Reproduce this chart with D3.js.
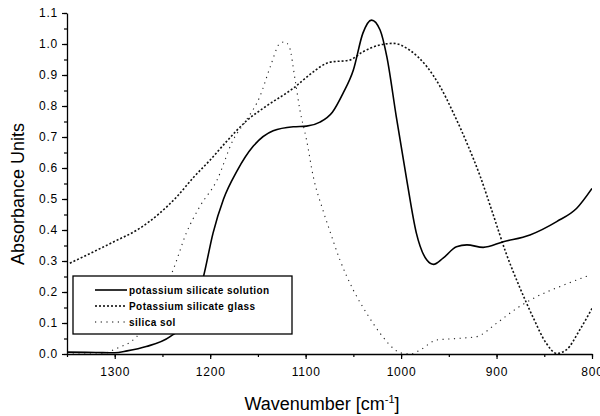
<!DOCTYPE html>
<html>
<head>
<meta charset="utf-8">
<script src="https://cdn.jsdelivr.net/npm/d3@7"></script>
<style>
  body { margin: 0; background: #fff; }
  text { font-family: "Liberation Sans", Arial, sans-serif; fill: #000; }
</style>
</head>
<body>
<div id="chart"></div>
<script>
// wavenumber (cm-1) and absorbance
var solutionWn = [1350, 1320, 1300, 1287, 1267, 1242, 1221, 1207, 1197, 1186, 1172, 1155, 1134, 1113, 1099, 1085, 1072, 1061, 1050, 1040, 1031, 1022, 1015, 1005, 994, 984, 973, 966, 956, 942, 931, 914, 893, 865, 837, 816, 800];
var solutionAbs = [0.006, 0.005, 0.004, 0.01, 0.024, 0.056, 0.12, 0.25, 0.39, 0.50, 0.59, 0.67, 0.72, 0.733, 0.735, 0.748, 0.78, 0.84, 0.916, 1.035, 1.077, 1.045, 0.96, 0.765, 0.56, 0.39, 0.303, 0.289, 0.309, 0.346, 0.352, 0.344, 0.362, 0.384, 0.427, 0.47, 0.534];

var glassWn = [1347, 1322, 1301, 1274, 1253, 1235, 1218, 1200, 1183, 1162, 1141, 1113, 1092, 1078, 1075, 1054, 1040, 1022, 1008, 991, 973, 959, 945, 931, 917, 904, 890, 876, 862, 848, 837, 827, 813, 800];
var glassAbs = [0.293, 0.33, 0.362, 0.405, 0.454, 0.507, 0.568, 0.626, 0.685, 0.752, 0.80, 0.857, 0.91, 0.938, 0.941, 0.948, 0.975, 0.997, 1.002, 0.98, 0.927, 0.862, 0.776, 0.68, 0.572, 0.454, 0.325, 0.217, 0.12, 0.035, 0.002, 0.013, 0.077, 0.147];

var solWn = [1350, 1315, 1298, 1277, 1258, 1239, 1225, 1211, 1193, 1176, 1162, 1148, 1137, 1127, 1122, 1117, 1111, 1106, 1099, 1092, 1082, 1075, 1064, 1050, 1036, 1022, 1008, 1001, 990, 980, 963, 942, 921, 900, 879, 858, 830, 802];
var solAbs = [0.0, 0.0, 0.018, 0.056, 0.15, 0.27, 0.39, 0.475, 0.56, 0.69, 0.755, 0.83, 0.927, 1.002, 1.007, 0.99, 0.884, 0.787, 0.69, 0.572, 0.465, 0.4, 0.303, 0.206, 0.131, 0.067, 0.018, 0.004, 0.0, 0.013, 0.045, 0.05, 0.056, 0.099, 0.147, 0.185, 0.222, 0.255];

var seriesNames = ["potassium silicate solution", "Potassium silicate glass", "silica sol"];
var xTicks = [1300, 1200, 1100, 1000, 900, 800];
var yTicks = [0.0, 0.1, 0.2, 0.3, 0.4, 0.5, 0.6, 0.7, 0.8, 0.9, 1.0, 1.1];

var margin = {top: 13, right: 8, bottom: 62, left: 67},
    width = 600 - margin.left - margin.right,
    height = 416 - margin.top - margin.bottom;

var svg = d3.select("#chart")
  .append("svg")
  .attr("width", 600)
  .attr("height", 416)
  .append("g")
  .attr("transform", "translate(" + margin.left + "," + margin.top + ")");

var x = d3.scaleLinear().domain([1350, 800]).range([0, width]);
var y = d3.scaleLinear().domain([0, 1.1]).range([height, 0]);

// minor ticks first, then the labelled axes
svg.append("g")
  .attr("transform", "translate(0," + height + ")")
  .call(d3.axisBottom(x).tickValues(d3.range(1350, 799, -50)).tickSize(3).tickFormat(""))
  .call(function(g) { g.select(".domain").remove(); });
svg.append("g")
  .call(d3.axisLeft(y).tickValues(d3.range(0, 23).map(function(i) { return i * 0.05; })).tickSize(3).tickFormat(""))
  .call(function(g) { g.select(".domain").remove(); });

var xAxis = svg.append("g")
  .attr("transform", "translate(0," + height + ")")
  .call(d3.axisBottom(x).tickValues(xTicks).tickSize(5).tickSizeOuter(0).tickPadding(8).tickFormat(d3.format("d")));
var yAxis = svg.append("g")
  .call(d3.axisLeft(y).tickValues(yTicks).tickSize(5).tickSizeOuter(0).tickPadding(4).tickFormat(d3.format(".1f")));

svg.selectAll(".tick line").attr("stroke", "#000").attr("stroke-width", 1.2);
svg.selectAll(".domain").attr("stroke", "#000").attr("stroke-width", 1.3);
svg.selectAll(".tick text")
  .style("font-size", "12px")
  .style("letter-spacing", "0.8px")
  .style("font-family", "'Liberation Sans', Arial, sans-serif");

function makeLine(wn) {
  return d3.line()
    .x(function(d, i) { return x(wn[i]); })
    .y(function(d) { return y(d); })
    .curve(d3.curveMonotoneX);
}

svg.append("clipPath").attr("id", "plotclip")
  .append("rect").attr("x", 0).attr("y", -2).attr("width", width).attr("height", height + 2);

var plot = svg.append("g").attr("clip-path", "url(#plotclip)");

plot.append("path")
  .datum(glassAbs)
  .attr("fill", "none")
  .attr("stroke", "#111")
  .attr("stroke-width", 1.6)
  .attr("stroke-dasharray", "2,2")
  .attr("d", makeLine(glassWn));

plot.append("path")
  .datum(solAbs)
  .attr("fill", "none")
  .attr("stroke", "#222")
  .attr("stroke-width", 1.1)
  .attr("stroke-dasharray", "1.2,4.5")
  .attr("d", makeLine(solWn));

plot.append("path")
  .datum(solutionAbs)
  .attr("fill", "none")
  .attr("stroke", "#000")
  .attr("stroke-width", 1.6)
  .attr("d", makeLine(solutionWn));

// legend
var legend = svg.append("g").attr("transform", "translate(" + (73 - margin.left) + "," + (276 - margin.top) + ")");
legend.append("rect")
  .attr("width", 219)
  .attr("height", 58)
  .attr("fill", "#fff")
  .attr("stroke", "#000")
  .attr("stroke-width", 1.3);

var legendStyles = [
  {dash: null, w: 1.6},
  {dash: "2,2", w: 1.6},
  {dash: "1.2,4.5", w: 1.1}
];
seriesNames.forEach(function(name, i) {
  var yy = 14 + i * 16;
  legend.append("line")
    .attr("x1", 22).attr("x2", 54)
    .attr("y1", yy).attr("y2", yy)
    .attr("stroke", "#000")
    .attr("stroke-width", legendStyles[i].w)
    .attr("stroke-dasharray", legendStyles[i].dash);
  legend.append("text")
    .attr("x", 56)
    .attr("y", yy + 4)
    .style("font-size", "10px")
    .style("font-weight", "bold")
    .style("letter-spacing", "0.45px")
    .text(name);
});

// axis titles
var xTitle = svg.append("text")
  .attr("text-anchor", "middle")
  .attr("x", 322 - margin.left)
  .attr("y", 410 - margin.top)
  .style("font-size", "18px");
xTitle.append("tspan").text("Wavenumber [cm");
xTitle.append("tspan").attr("dy", -7).style("font-size", "11px").text("-1");
xTitle.append("tspan").attr("dy", 7).text("]");

svg.append("text")
  .attr("text-anchor", "middle")
  .attr("transform", "rotate(-90)")
  .attr("x", -(194 - margin.top))
  .attr("y", 24 - margin.left)
  .style("font-size", "18px")
  .text("Absorbance Units");
</script>
</body>
</html>
